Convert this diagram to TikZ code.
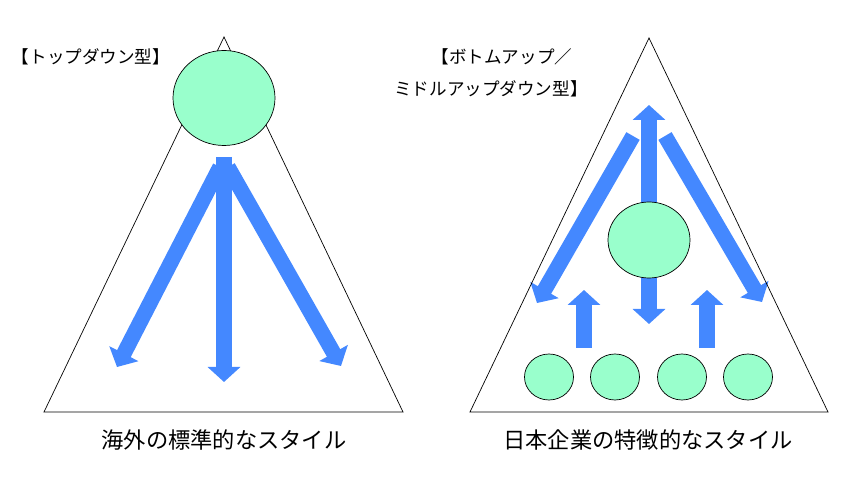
\documentclass[tikz,border=0pt]{standalone}
\usepackage{fontspec}
\newfontfamily\cjk{Noto Sans CJK JP}
\usetikzlibrary{shapes.geometric,arrows.meta,backgrounds}
\definecolor{mint}{HTML}{99FFCC}
\definecolor{flowblue}{HTML}{4488FF}
\tikzset{
	member/.style={ellipse,draw=black,fill=mint,line width=0.6pt,inner sep=0pt},
	flow/.style={draw=flowblue,line width=0.46cm,-{Triangle[width=0.96cm,length=0.45cm]}},
	caption/.style={font=\cjk\fontsize{19pt}{23pt}\selectfont,inner sep=0pt},
	heading/.style={font=\cjk\fontsize{15pt}{27pt}\selectfont,inner sep=0pt}
}
\begin{document}
\begin{tikzpicture}[x=0.03cm,y=-0.03cm]
				\useasboundingbox (0,0) rectangle (856,483);
				\draw[line width=0.6pt] (224,37) -- (44,412) -- (403,412) -- cycle;
				\draw[line width=0.6pt] (649,38) -- (470,412) -- (828,412) -- cycle;
				\node[member,minimum width=3.06cm,minimum height=2.85cm] (leader) at (224,98) {};
				\node[member,minimum width=2.46cm,minimum height=2.28cm] (middle) at (649,240) {};
				\node[member,minimum width=1.47cm,minimum height=1.38cm] (m1) at (549,377) {};
				\node[member,minimum width=1.47cm,minimum height=1.38cm] (m2) at (615,377) {};
				\node[member,minimum width=1.47cm,minimum height=1.38cm] (m3) at (682,377) {};
				\node[member,minimum width=1.47cm,minimum height=1.38cm] (m4) at (748,377) {};
				\coordinate (tdtop) at (224,157);
				\coordinate (tdleft) at (220,167);
				\coordinate (tdright) at (228,167);
				\coordinate (tdl) at (117,367);
				\coordinate (tdm) at (224,382);
				\coordinate (tdr) at (341,366);
				\coordinate (mup) at (649,105);
				\coordinate (mdown) at (649,324);
				\coordinate (bleft) at (633,136);
				\coordinate (bright) at (665,136);
				\coordinate (bl) at (537,303);
				\coordinate (br) at (762,302);
				\coordinate (s1) at (584,348);
				\coordinate (t1) at (584,290);
				\coordinate (s2) at (707,348);
				\coordinate (t2) at (707,290);
				\begin{scope}[on background layer]
					\draw[flow] (tdleft) -- (tdl);
					\draw[flow] (tdright) -- (tdr);
					\draw[flow] (tdtop) -- (tdm);
					\draw[flow] (bleft) -- (bl);
					\draw[flow] (bright) -- (br);
					\draw[flow] (middle.center) -- (mup);
					\draw[flow] (middle.center) -- (mdown);
					\draw[flow] (s1) -- (t1);
					\draw[flow] (s2) -- (t2);
				\end{scope}
				\node[heading] (tdtitle) at (91,57) {【トップダウン型】};
				\node[heading,align=center] (butitle) at (491,73) {\hspace*{1.25em}【ボトムアップ／\\ミドルアップダウン型】};
				\node[caption] (tdcaption) at (224,440) {海外の標準的なスタイル};
				\node[caption] (bucaption) at (648,440) {日本企業の特徴的なスタイル};
\end{tikzpicture}
\end{document}
